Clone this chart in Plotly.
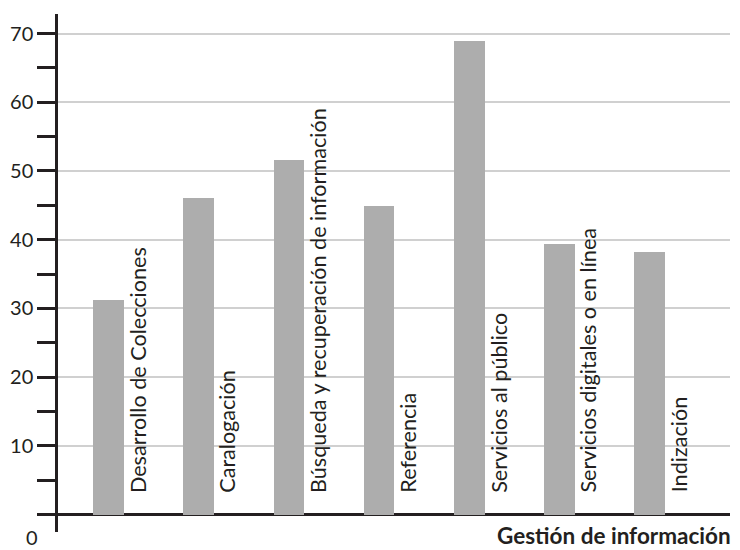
import plotly.graph_objects as go

categories = [
    "Desarrollo de Colecciones",
    "Caralogación",
    "Búsqueda y recuperación de información",
    "Referencia",
    "Servicios al público",
    "Servicios digitales o en línea",
    "Indización",
]
values = [31.2, 46.1, 51.6, 44.9, 68.9, 39.4, 38.2]
y_tick_vals = [0, 10, 20, 30, 40, 50, 60, 70]
y_tick_text = ["", "10", "20", "30", "40", "50", "60", "70"]
x_title = "Gestión de información"
zero_label = "0"

FONT = "Lato"
DARK = "#231f20"
BAR = "#adadad"
GRID = "#d0d0d0"

xs = list(range(len(categories)))

fig = go.Figure()
fig.add_trace(go.Bar(
    x=xs, y=values, width=0.34,
    marker=dict(color=BAR, line=dict(width=0)),
    hoverinfo="skip", showlegend=False,
))

annotations = []
for i, name in zip(xs, categories):
    annotations.append(dict(
        x=i + 0.32, y=2.9, xref="x", yref="y",
        text=name, textangle=-90, showarrow=False,
        xanchor="center", yanchor="bottom",
        font=dict(family=FONT, size=21.6, color=DARK),
    ))
annotations.append(dict(
    x=1.003, y=-0.0347, xref="paper", yref="paper",
    text="<b>" + x_title + "</b>", showarrow=False,
    xanchor="right", yanchor="bottom", borderpad=0,
    font=dict(family=FONT, size=22.5, color=DARK),
))
annotations.append(dict(
    x=-0.0394, y=-0.0347, xref="paper", yref="paper",
    text=zero_label, showarrow=False,
    xanchor="center", yanchor="bottom", borderpad=0,
    font=dict(family=FONT, size=20, color=DARK),
))

fig.update_layout(
    width=732, height=542,
    margin=dict(l=50, r=10, t=6, b=18, pad=0),
    paper_bgcolor="white", plot_bgcolor="white",
    font=dict(family=FONT, size=20, color=DARK),
    bargap=0,
    xaxis=dict(
        range=[-0.56, 6.89], showgrid=False, zeroline=False,
        showline=False, showticklabels=False, ticks="", fixedrange=True,
    ),
    yaxis=dict(
        range=[-2.53, 72.84],
        tickvals=y_tick_vals, ticktext=y_tick_text,
        ticks="outside", ticklen=18, tickwidth=2.5, tickcolor=DARK,
        showgrid=True, gridcolor=GRID, gridwidth=2,
        zeroline=True, zerolinecolor=DARK, zerolinewidth=2.5,
        showline=True, linecolor=DARK, linewidth=2.5,
        minor=dict(tick0=0, dtick=5, ticks="outside", ticklen=18,
                   tickwidth=2.5, tickcolor=DARK, showgrid=False),
        tickfont=dict(family=FONT, size=20, color=DARK),
        automargin=False,
        fixedrange=True,
    ),
    annotations=annotations,
)

fig.write_html("out.html")
